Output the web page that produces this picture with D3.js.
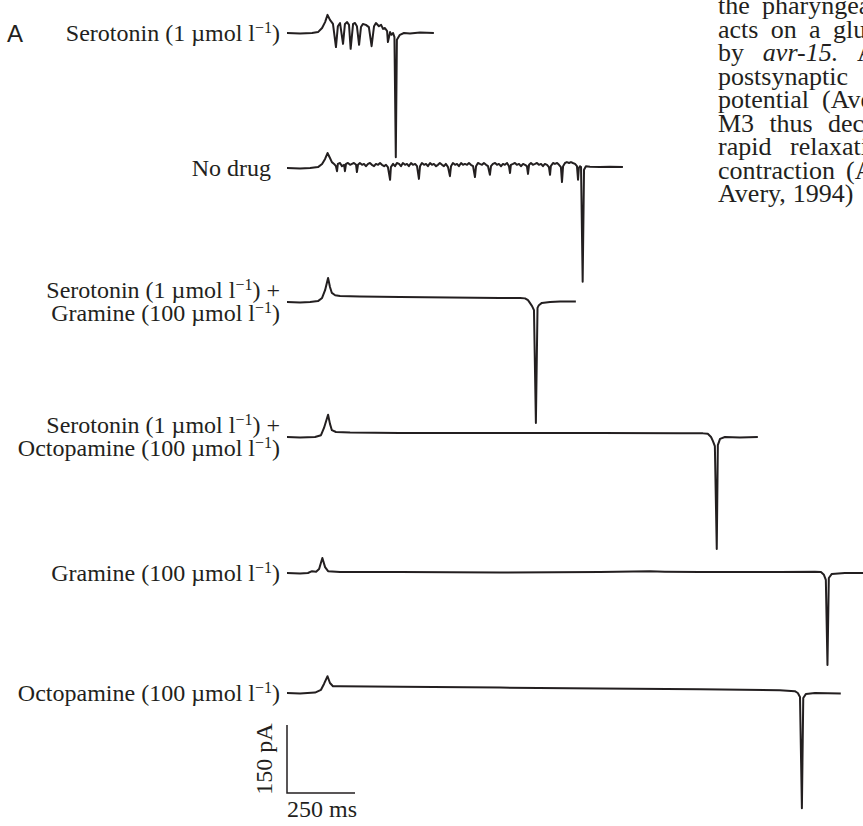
<!DOCTYPE html>
<html>
<head>
<meta charset="utf-8">
<script src="https://cdn.jsdelivr.net/npm/d3@7"></script>
<style>
  body { margin: 0; background: #fff; }
  svg { display: block; }
  text { font-family: "Liberation Serif", "Times New Roman", serif; fill: #231f20; }
</style>
</head>
<body>
<svg id="chart" width="863" height="826"></svg>
<script>
(function() {

    // recordings, [time (ms), current (pA)] relative to each trace's own holding level
    var serotoninTrace = [[0,0],[48,-1],[92,0],[114,2],[129,11],[140,24],[149,40],[158,29],[169,20],[180,-31],
        [187,15],[195,22],[206,-24],[213,20],[221,24],[228,18],[234,-35],[243,20],[250,22],[257,15],[265,-26],
        [272,13],[279,20],[290,18],[301,13],[311,-29],[320,15],[327,22],[338,15],[346,18],[353,9],[360,11],
        [368,4],[371,-20],[379,2],[384,-4],[390,0],[395,-9],[400,-274],[404,-15],[415,-4],[430,0],[452,-1],
        [489,1],[540,0]];

    var noDrugTrace = [[0,0],[48,-1],[85,0],[114,2],[129,9],[140,20],[149,33],[158,22],[165,13],[173,9],[180,4],
        [184,-7],[187,9],[195,11],[202,4],[210,7],[213,-7],[217,9],[224,11],[232,7],[239,9],[246,11],[254,7],
        [257,-9],[261,7],[268,11],[276,7],[283,9],[290,4],[298,9],[305,11],[312,7],[320,4],[327,9],[335,7],
        [342,11],[349,7],[357,4],[364,7],[371,2],[379,-26],[382,2],[390,9],[397,4],[404,11],[412,9],[419,4],
        [426,11],[434,7],[441,9],[448,4],[456,11],[463,7],[471,9],[478,4],[485,-24],[489,4],[496,11],[504,7],
        [511,9],[518,4],[526,11],[533,7],[540,9],[548,4],[555,7],[562,11],[570,7],[577,4],[584,9],[592,2],
        [599,-18],[603,4],[610,11],[618,7],[625,9],[632,4],[640,11],[647,7],[654,9],[662,7],[669,11],[676,7],
        [684,4],[691,-20],[695,4],[702,11],[709,9],[717,7],[724,11],[732,7],[739,4],[746,-15],[750,4],[757,9],
        [765,11],[772,7],[779,9],[787,4],[794,9],[801,7],[809,11],[816,4],[820,-11],[823,7],[831,9],[838,11],
        [845,7],[853,9],[860,4],[868,9],[875,7],[882,4],[886,-13],[890,7],[897,11],[904,7],[912,9],[919,11],
        [926,7],[934,9],[941,4],[948,9],[956,7],[963,2],[967,-15],[970,4],[978,11],[985,9],[993,11],[1000,7],
        [1007,2],[1011,-31],[1015,4],[1022,11],[1029,13],[1037,11],[1044,13],[1051,11],[1059,9],[1066,4],
        [1070,-26],[1073,0],[1077,4],[1081,2],[1087,-251],[1092,-4],[1099,4],[1114,3],[1150,2],[1187,3],[1235,2]];

    var serGramineTrace = [[0,0],[48,-1],[85,0],[114,2],[129,9],[140,26],[151,53],[158,33],[165,20],[177,15],
        [195,13],[268,12],[415,11],[599,10],[783,9],[857,9],[875,8],[886,4],[893,-2],[901,-9],[908,-18],
        [915,-267],[921,-13],[926,-7],[937,-2],[967,0],[1004,1],[1062,1]];

    var serOctopamineTrace = [[0,0],[48,-1],[103,0],[125,4],[136,20],[151,49],[158,29],[165,15],[180,11],
        [232,10],[415,9],[783,9],[1151,9],[1445,8],[1529,8],[1547,7],[1559,0],[1566,-9],[1573,-20],
        [1580,-247],[1584,-18],[1592,-4],[1610,0],[1665,-1],[1731,0]];

    var gramineTrace = [[0,0],[48,-1],[77,0],[92,4],[107,3],[118,9],[130,33],[140,13],[151,4],[195,2],
        [415,2],[783,1],[1151,2],[1334,4],[1389,3],[1518,2],[1812,2],[1941,3],[1963,2],[1974,-4],[1981,-15],
        [1987,-203],[1992,-11],[2003,-2],[2051,0],[2180,0]];

    var octopamineTrace = [[0,0],[48,-1],[103,1],[125,7],[136,20],[149,37],[158,22],[169,15],[195,15],
        [415,14],[783,12],[1151,10],[1518,8],[1812,6],[1867,4],[1878,0],[1886,-9],[1893,-254],[1898,-11],
        [1908,-2],[1941,0],[2036,-1]];

    var traces = [serotoninTrace, noDrugTrace, serGramineTrace, serOctopamineTrace, gramineTrace, octopamineTrace];

    // label lines: [text, superscript, text after]
    var traceLabels = [
        [["Serotonin (1 \u00b5mol l", "\u22121", ")"]],
        [["No drug", "", ""]],
        [["Serotonin (1 \u00b5mol l", "\u22121", ") +"], ["Gramine (100 \u00b5mol l", "\u22121", ")"]],
        [["Serotonin (1 \u00b5mol l", "\u22121", ") +"], ["Octopamine (100 \u00b5mol l", "\u22121", ")"]],
        [["Gramine (100 \u00b5mol l", "\u22121", ")"]],
        [["Octopamine (100 \u00b5mol l", "\u22121", ")"]]
    ];

    var scaleBarTime = 250;   // ms
    var scaleBarCurrent = 150; // pA

    // bit of article text running down the right edge (cut by the page), justified
    var sideWords = [
        ["the", "pharyngeal"],
        ["acts", "on", "a", "glutamate"],
        ["by", "_avr-15.", "A"],
        ["postsynaptic"],
        ["potential", "(Avery"],
        ["M3", "thus", "decreases"],
        ["rapid", "relaxation"],
        ["contraction", "(Avery"],
        ["Avery,", "1994)"]
    ];
    // where the last word of each line starts (null = not stretched)
    var sideLastX = [762, 833, 857, null, 822, 828, 790, 846, null];

    var rowBase = [33, 168, 302, 437, 573, 693];
    var ink = "#231f20";

    var svg = d3.select("#chart");

    var x = d3.scaleLinear().domain([0, scaleBarTime]).range([287, 355]);
    function yFor(base) {
        return d3.scaleLinear().domain([0, scaleBarCurrent]).range([base, base - 68]);
    }

    traces.forEach(function(tr, i) {
        var y = yFor(rowBase[i]);
        var line = d3.line()
            .x(function(d) { return x(d[0]); })
            .y(function(d) { return y(d[1]); });
        svg.append("path")
            .datum(tr)
            .attr("d", line)
            .attr("fill", "none")
            .attr("stroke", ink)
            .attr("stroke-width", 2)
            .attr("stroke-linejoin", "round");
    });

    // labels to the left of each trace
    traceLabels.forEach(function(lines, i) {
        var base = rowBase[i];
        var ys = lines.length === 1 ? [base + 8] : [base - 4, base + 19];
        lines.forEach(function(seg, j) {
            var t = svg.append("text")
                .attr("x", i === 1 ? 271 : 280)
                .attr("y", ys[j])
                .attr("text-anchor", "end")
                .style("font-size", "24px");
            t.append("tspan").text(seg[0]);
            if (seg[1]) {
                t.append("tspan").attr("dy", -8).style("font-size", "16px").text(seg[1]);
                t.append("tspan").attr("dy", 8).text(seg[2]);
            }
        });
    });

    // panel letter
    svg.append("text")
        .attr("x", 7).attr("y", 42)
        .style("font-family", "'Liberation Sans', Arial, sans-serif")
        .style("font-size", "24px")
        .text("A");

    // scale bar
    var barY = yFor(793);
    svg.append("path")
        .attr("d", "M" + x(0) + "," + barY(scaleBarCurrent) + "V" + barY(0) + "H" + x(scaleBarTime))
        .attr("fill", "none")
        .attr("stroke", ink)
        .attr("stroke-width", 1.5);

    svg.append("text")
        .attr("transform", "translate(272," + ((barY(0) + barY(scaleBarCurrent)) / 2) + ") rotate(-90)")
        .attr("text-anchor", "middle")
        .style("font-size", "24px")
        .text(scaleBarCurrent + " pA");

    svg.append("text")
        .attr("x", x(0)).attr("y", 817)
        .style("font-size", "24px")
        .text(scaleBarTime + " ms");

    // side text: measure words, then spread the gaps evenly
    sideWords.forEach(function(words, i) {
        var nodes = words.map(function(w) {
            var italic = w.charAt(0) === "_";
            return svg.append("text")
                .attr("y", 14 + i * 23.5)
                .style("font-size", "26px")
                .style("font-style", italic ? "italic" : null)
                .text(italic ? w.slice(1) : w);
        });
        var widths = nodes.map(function(n) { return n.node().getComputedTextLength(); });
        var gap = 7;
        if (sideLastX[i] !== null && words.length > 1) {
            gap = (sideLastX[i] - 718 - d3.sum(widths.slice(0, -1))) / (words.length - 1);
        }
        var cx = 718;
        nodes.forEach(function(n, k) {
            n.attr("x", cx);
            cx += widths[k] + gap;
        });
    });

})();
</script>
</body>
</html>
